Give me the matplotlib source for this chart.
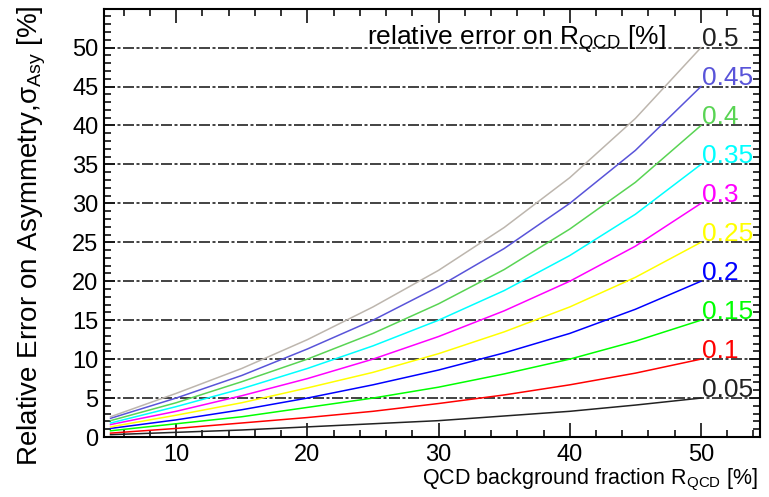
import matplotlib
matplotlib.use("Agg")
import matplotlib.pyplot as plt
from matplotlib.ticker import MultipleLocator

plt.rcParams['font.family'] = ['Liberation Sans', 'DejaVu Sans']
plt.rcParams['mathtext.fontset'] = 'custom'
plt.rcParams['mathtext.rm'] = 'Liberation Sans'
plt.rcParams['mathtext.it'] = 'Liberation Sans:italic'

# QCD background fraction [%]
r_qcd = [5, 10, 15, 20, 25, 30, 35, 40, 45, 50]

# relative error on asymmetry [%] for each relative error on R_QCD
err_005 = [0.3, 0.6, 0.9, 1.3, 1.7, 2.1, 2.7, 3.3, 4.1, 5.0]
err_010 = [0.5, 1.1, 1.8, 2.5, 3.3, 4.3, 5.4, 6.7, 8.2, 10.0]
err_015 = [0.8, 1.7, 2.6, 3.8, 5.0, 6.4, 8.1, 10.0, 12.3, 15.0]
err_020 = [1.1, 2.2, 3.5, 5.0, 6.7, 8.6, 10.8, 13.3, 16.4, 20.0]
err_025 = [1.3, 2.8, 4.4, 6.3, 8.3, 10.7, 13.5, 16.7, 20.5, 25.0]
err_030 = [1.6, 3.3, 5.3, 7.5, 10.0, 12.9, 16.2, 20.0, 24.5, 30.0]
err_035 = [1.8, 3.9, 6.2, 8.8, 11.7, 15.0, 18.8, 23.3, 28.6, 35.0]
err_040 = [2.1, 4.4, 7.1, 10.0, 13.3, 17.1, 21.5, 26.7, 32.7, 40.0]
err_045 = [2.4, 5.0, 7.9, 11.3, 15.0, 19.3, 24.2, 30.0, 36.8, 45.0]
err_050 = [2.6, 5.6, 8.8, 12.5, 16.7, 21.4, 26.9, 33.3, 40.9, 50.0]

series = [err_005, err_010, err_015, err_020, err_025,
          err_030, err_035, err_040, err_045, err_050]
names = ['0.05', '0.1', '0.15', '0.2', '0.25', '0.3', '0.35', '0.4', '0.45', '0.5']
line_colors = ['#222222', '#ff0000', '#00ff00', '#0000ff', '#ffff00',
               '#ff00ff', '#00ffff', '#59d454', '#5954d9', '#bdb6ae']
text_colors = ['#222222', '#ff0000', '#00ff00', '#0000ff', '#ffff00',
               '#ff00ff', '#00ffff', '#59d454', '#5954d9', '#222222']

fig = plt.figure(figsize=(7.69, 4.97), dpi=100)
ax = fig.add_axes([0.1352, 0.1207, 0.8531, 0.8603])

for y in range(5, 55, 5):
    ax.axhline(y, color='#222222', lw=1.2, ls=(0, (6.6, 1.5, 1.8, 1.5)), zorder=1)

for vals, name, lc, tc in zip(series, names, line_colors, text_colors):
    ax.plot(r_qcd, vals, color=lc, lw=1.1, zorder=2)
    ax.text(50.1, vals[-1] + 0.2, name, color=tc, fontsize=19,
            ha='left', va='baseline', zorder=3)

ax.text(47.3, 50.4, r'relative error on R$_{\mathrm{QCD}}$ [%]', fontsize=19,
        ha='right', va='baseline')

ax.set_xlim(4.5, 54.5)
ax.set_ylim(0, 54.9)
ax.xaxis.set_major_locator(MultipleLocator(10))
ax.xaxis.set_minor_locator(MultipleLocator(2))
ax.yaxis.set_major_locator(MultipleLocator(5))
ax.yaxis.set_minor_locator(MultipleLocator(1))
ax.tick_params(which='both', direction='in', top=True, right=True,
               labelsize=17, width=1.2, color='#111111')
ax.tick_params(axis='x', which='major', length=10, pad=5)
ax.tick_params(axis='x', which='minor', length=5)
ax.tick_params(axis='y', which='major', length=8, pad=4)
ax.tick_params(axis='y', which='minor', length=5)
for s in ax.spines.values():
    s.set_linewidth(1.5)

fig.text(0.041, 0.99, r'Relative Error on Asymmetry,σ$_{\mathrm{Asy}}$ [%]',
         rotation=90, fontsize=20, ha='center', va='top')
fig.text(0.985, 0.026, r'QCD background fraction R$_{\mathrm{QCD}}$ [%]',
         fontsize=15.5, ha='right', va='baseline')

fig.savefig('out.png', dpi=100)
